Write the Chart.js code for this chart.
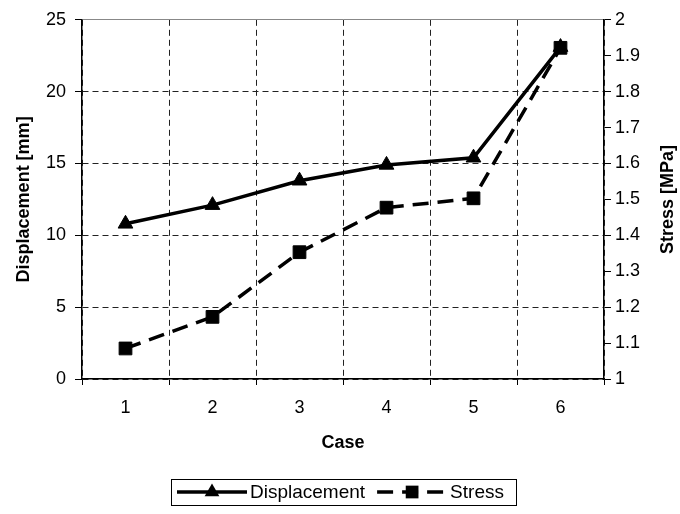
<!DOCTYPE html>
<html>
<head>
<meta charset="utf-8">
<script src="https://cdn.jsdelivr.net/npm/chart.js@4/dist/chart.umd.min.js"></script>
<style>
body { margin: 0; background: #fff; }
</style>
</head>
<body>
<canvas id="chart-area" width="680" height="514"></canvas>
<script>
// values
const cases = ['1', '2', '3', '4', '5', '6'];
const displacement = [10.8, 12.1, 13.8, 14.9, 15.4, 23.1];   // mm, left axis
const stress = [1.085, 1.173, 1.353, 1.477, 1.503, 1.922];   // MPa, right axis
const dispRange = [0, 25, 5];
const stressRange = [1, 2, 0.1];

const FONT = '"Liberation Sans", Arial, sans-serif';
Chart.defaults.font.family = FONT;
Chart.defaults.color = '#000';

// legend box at the bottom + right axis title (reads bottom to top)
const extras = {
    id: 'extras',
    afterDraw(chart) {
        const c = chart.ctx;
        const items = chart.data.datasets;
        c.save();
        c.font = '19px ' + FONT;
        const sampleW = 70, gapText = 3, gapItem = 12;
        const left = 171, top = 479, h = 26, cy = top + h / 2;
        let x = left + 6;
        items.forEach(ds => {
            c.save();
            c.strokeStyle = ds.borderColor;
            c.lineWidth = ds.borderWidth;
            c.setLineDash(ds.borderDash || []);
            c.beginPath();
            c.moveTo(x, cy);
            c.lineTo(x + sampleW, cy);
            c.stroke();
            c.setLineDash([]);
            const mx = x + sampleW / 2, r = ds.pointRadius;
            c.fillStyle = ds.pointBackgroundColor;
            c.beginPath();
            if (ds.pointStyle === 'triangle') {
                c.moveTo(mx, cy - r);
                c.lineTo(mx + r * Math.sin(2 * Math.PI / 3), cy - r * Math.cos(2 * Math.PI / 3));
                c.lineTo(mx + r * Math.sin(4 * Math.PI / 3), cy - r * Math.cos(4 * Math.PI / 3));
                c.closePath();
            } else {
                const s = r / Math.SQRT2;
                c.rect(mx - s, cy - s, 2 * s, 2 * s);
            }
            c.fill();
            c.restore();
            x += sampleW + gapText;
            c.fillStyle = '#000';
            c.textBaseline = 'middle';
            c.textAlign = 'left';
            c.fillText(ds.label, x, cy + 1);
            x += c.measureText(ds.label).width + gapItem;
        });
        const right = Math.max(513, Math.round(x));
        c.strokeStyle = '#000';
        c.lineWidth = 1;
        c.strokeRect(left + 0.5, top + 0.5, right - left, h);

        const area = chart.chartArea;
        c.translate(668, (area.top + area.bottom) / 2);
        c.rotate(-Math.PI / 2);
        c.font = 'bold 18px ' + FONT;
        c.textAlign = 'center';
        c.textBaseline = 'middle';
        c.fillText('Stress [MPa]', 0, 0);
        c.restore();
    }
};

const ctx = document.getElementById('chart-area').getContext('2d');
new Chart(ctx, {
    type: 'line',
    data: {
        labels: cases,
        datasets: [{
            label: 'Displacement',
            data: displacement,
            yAxisID: 'y',
            borderColor: '#000',
            backgroundColor: '#000',
            pointBackgroundColor: '#000',
            borderWidth: 3.5,
            pointStyle: 'triangle',
            pointRadius: 8.5,
            pointBorderWidth: 1,
            tension: 0,
        }, {
            label: 'Stress',
            data: stress,
            yAxisID: 'y1',
            borderColor: '#000',
            backgroundColor: '#000',
            pointBackgroundColor: '#000',
            borderWidth: 3.5,
            borderDash: [16, 9],
            pointStyle: 'rect',
            pointRadius: 9,
            pointBorderWidth: 1,
            tension: 0,
        }]
    },
    options: {
        responsive: false,
        animation: false,
        layout: {
            padding: { top: 17, bottom: 60, left: 0, right: 0 }
        },
        plugins: {
            legend: { display: false },
            tooltip: { enabled: false }
        },
        scales: {
            x: {
                offset: true,
                grid: {
                    offset: true,
                    color: '#222',
                    tickColor: '#000',
                    tickLength: 6,
                    tickBorderDash: []
                },
                border: { color: '#000', width: 1.5, dash: [6, 4] },
                ticks: { color: '#000', font: { size: 18 }, padding: 12 },
                title: {
                    display: true,
                    text: 'Case',
                    color: '#000',
                    font: { size: 18, weight: 'bold' },
                    padding: { top: 0, bottom: 0 }
                },
                afterFit: (s) => { s.height = 75; }
            },
            y: {
                position: 'left',
                min: dispRange[0],
                max: dispRange[1],
                ticks: { stepSize: dispRange[2], color: '#000', font: { size: 18 }, padding: 9 },
                grid: {
                    color: (c) => c.tick && c.tick.value === dispRange[1] ? '#888' : '#222',
                    tickColor: '#000',
                    tickLength: 7,
                    tickBorderDash: []
                },
                border: {
                    color: '#000',
                    width: 1.5,
                    dash: (c) => c.tick && c.tick.value === dispRange[1] ? [] : [6, 4]
                },
                title: {
                    display: true,
                    text: 'Displacement [mm]',
                    color: '#000',
                    font: { size: 18, weight: 'bold' },
                    padding: { top: 13, bottom: 0 }
                },
                afterFit: (s) => { s.width = 82; }
            },
            y1: {
                position: 'right',
                min: stressRange[0],
                max: stressRange[1],
                ticks: {
                    stepSize: stressRange[2],
                    color: '#000',
                    font: { size: 18 },
                    padding: 4,
                    callback: (v) => String(Math.round(v * 10) / 10)
                },
                grid: {
                    drawOnChartArea: false,
                    tickColor: '#000',
                    tickLength: 7
                },
                border: { color: '#000', width: 1.5 },
                afterFit: (s) => { s.width = 76; }
            }
        }
    },
    plugins: [extras]
});
</script>
</body>
</html>
